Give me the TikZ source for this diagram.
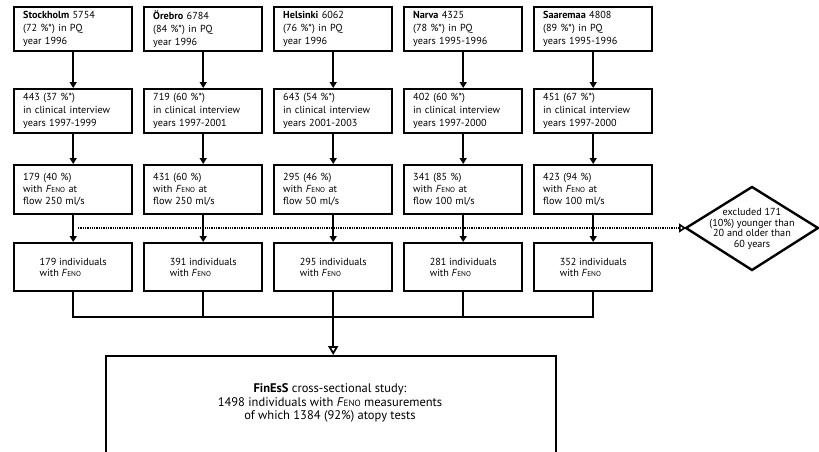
\documentclass[tikz,border=0pt]{standalone}
\usepackage{fontspec}
\setmainfont{PT Sans}
\usetikzlibrary{arrows.meta}
\newcommand{\feno}{\textit{F}{\fontsize{7.2}{8}\selectfont ENO}}
\begin{document}
\begin{tikzpicture}[x=1pt,y=-1pt,
  every node/.style={font=\fontsize{10.2}{13}\selectfont},
  box/.style={draw, line width=2.4pt, anchor=north west, minimum width=118pt, text width=100pt, inner xsep=9pt, inner ysep=0pt, align=left},
  rowa/.style={box, minimum height=44pt},
  rowb/.style={box, minimum height=44pt},
  rowc/.style={box, minimum height=49pt, font=\fontsize{10.2}{12}\selectfont},
  rowd/.style={draw, line width=2.4pt, anchor=north west, minimum width=118pt, minimum height=48pt, inner sep=0pt, align=left, font=\fontsize{10.2}{11}\selectfont},
  link/.style={line width=2.4pt, -{Triangle[width=7pt,length=6pt]}},
  plain/.style={line width=2.4pt},
  openarrow/.style={line width=2.4pt, -{Triangle[open,width=10pt,length=9pt,line width=1.8pt]}},
  dotline/.style={line width=2.2pt, dash pattern=on 1.3pt off 1pt, -{Triangle[open,width=9pt,length=7pt,line width=1.6pt]}}
]
\useasboundingbox (0,0) rectangle (819,452);
\clip (0,0) rectangle (819,452);
% row 1
\node[rowa] (a1) at (13,6) {\textbf{Stockholm} 5754\\(72 \%*) in PQ\\year 1996};
\node[rowa] (a2) at (143,6) {\textbf{Örebro} 6784\\(84 \%*) in PQ\\year 1996};
\node[rowa] (a3) at (273,6) {\textbf{Helsinki} 6062\\(76 \%*) in PQ\\year 1996};
\node[rowa] (a4) at (403,6) {\textbf{Narva} 4325\\(78 \%*) in PQ\\years 1995-1996};
\node[rowa] (a5) at (533,6) {\textbf{Saaremaa} 4808\\(89 \%*) in PQ\\years 1995-1996};
% row 2
\node[rowb] (b1) at (13,88) {443 (37 \%*)\\in clinical interview\\years 1997-1999};
\node[rowb] (b2) at (143,88) {719 (60 \%*)\\in clinical interview\\years 1997-2001};
\node[rowb] (b3) at (273,88) {643 (54 \%*)\\in clinical interview\\years 2001-2003};
\node[rowb] (b4) at (403,88) {402 (60 \%*)\\in clinical interview\\years 1997-2000};
\node[rowb] (b5) at (533,88) {451 (67 \%*)\\in clinical interview\\years 1997-2000};
% row 3
\node[rowc] (c1) at (13,164) {179 (40 \%)\\with \feno{} at\\flow 250 ml/s};
\node[rowc] (c2) at (143,164) {431 (60 \%)\\with \feno{} at\\flow 250 ml/s};
\node[rowc] (c3) at (273,164) {295 (46 \%)\\with \feno{} at\\flow 50 ml/s};
\node[rowc] (c4) at (403,164) {341 (85 \%)\\with \feno{} at\\flow 100 ml/s};
\node[rowc] (c5) at (533,164) {423 (94 \%)\\with \feno{} at\\flow 100 ml/s};
% row 4
\node[rowd] (d1) at (13,242) {179 individuals\\with \feno};
\node[rowd] (d2) at (143,242) {391 individuals\\with \feno};
\node[rowd] (d3) at (273,242) {295 individuals\\with \feno};
\node[rowd] (d4) at (403,242) {281 individuals\\with \feno};
\node[rowd] (d5) at (533,242) {352 individuals\\with \feno};
% vertical arrows
\foreach \i in {1,...,5}{
  \draw[link] (a\i.south) -- (b\i.north);
  \draw[link] (b\i.south) -- (c\i.north);
  \draw[link] (c\i.south) -- (d\i.north);
}
% exclusion diamond
\coordinate (dw) at (686,228);
\draw[plain, line join=miter] (dw) -- (752,187) -- (818,228) -- (752,270) -- cycle;
\node[align=center, font=\fontsize{10.2}{10.8}\selectfont] (excl) at (752,229) {excluded 171\\(10\%) younger than\\20 and older than\\60 years};
\coordinate (ds) at (78,228);
\draw[dotline] (ds) -- (dw);
% bus
\coordinate (bus1) at (d1.south |- 0,317);
\coordinate (bus5) at (d5.south |- 0,317);
\coordinate (bus3) at (d3.south |- 0,317);
\foreach \i in {1,...,5}{
  \draw[plain] (d\i.south) -- (d\i.south |- 0,317);
}
\draw[plain] ([xshift=-1.2pt]bus1) -- ([xshift=1.2pt]bus5);
% bottom box
\node[draw, line width=2.4pt, anchor=north west, minimum width=450pt, minimum height=110pt, inner sep=0pt, align=center] (fin) at (105,355) {};
\node[align=center, font=\fontsize{12.5}{13.5}\selectfont] (fintext) at (330,403) {\textbf{FinEsS} cross-sectional study:\\1498 individuals with \textit{F}{\fontsize{9}{10}\selectfont ENO} measurements\\of which 1384 (92\%) atopy tests};
\draw[openarrow] (bus3) -- (bus3 |- fin.north);
\end{tikzpicture}
\end{document}
